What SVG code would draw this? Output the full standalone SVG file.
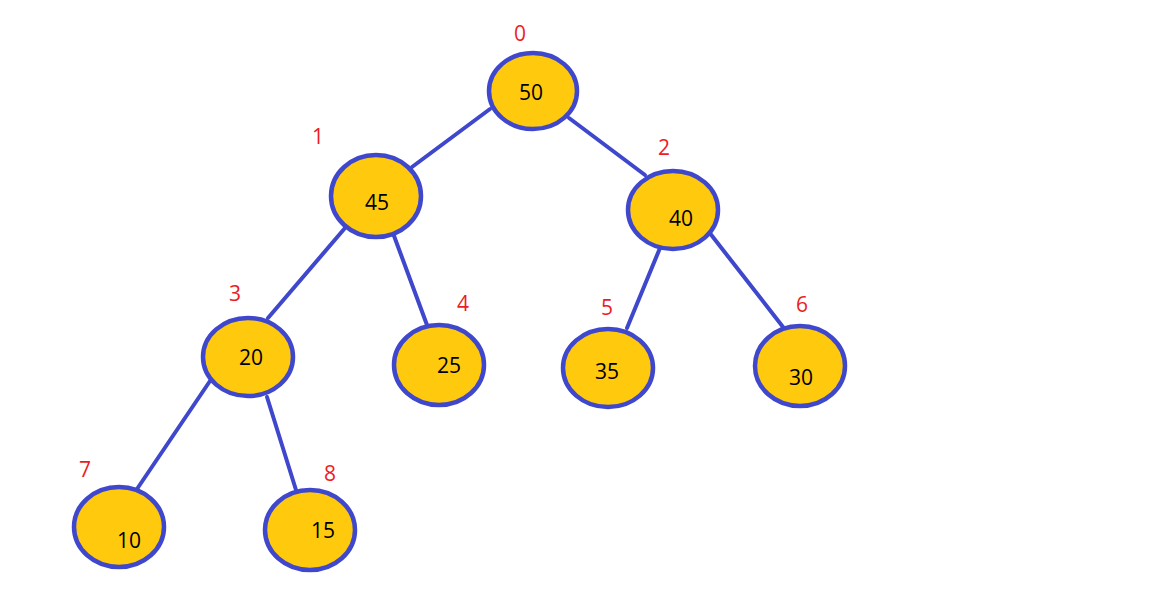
<svg xmlns="http://www.w3.org/2000/svg" width="1149" height="598" viewBox="0 0 1149 598">
<style>
.n{fill:#FFC90E;stroke:#3F48CC;stroke-width:4.5}
.c line{stroke:#3F48CC;stroke-width:4;stroke-linecap:round}
.v{font-family:"Open Sans","Noto Sans",sans-serif;font-size:21px;fill:#000;text-anchor:middle;dominant-baseline:central}
.i{font-family:"Open Sans","Noto Sans",sans-serif;font-size:21px;fill:#ED1C24;text-anchor:middle;dominant-baseline:central}
</style>
<rect width="1149" height="598" fill="#fff"/>
<g id="connectors" class="c">
<line x1="490" y1="109" x2="412" y2="167"/>
<line x1="569" y1="118" x2="645" y2="175"/>
<line x1="345" y1="228" x2="268" y2="318"/>
<line x1="427" y1="325" x2="390" y2="225"/>
<line x1="660" y1="248" x2="627" y2="328"/>
<line x1="709" y1="232" x2="783" y2="327"/>
<line x1="210" y1="381" x2="137" y2="489"/>
<line x1="267" y1="397" x2="296" y2="490"/>
</g>
<g id="n0"><ellipse class="n" cx="533" cy="91" rx="44" ry="38"/><text class="v" x="531" y="92">50</text><text class="i" x="520" y="33">0</text></g>
<g id="n1"><ellipse class="n" cx="376" cy="196" rx="45" ry="41"/><text class="v" x="377" y="202">45</text><text class="i" x="318" y="136">1</text></g>
<g id="n2"><ellipse class="n" cx="673" cy="210" rx="45" ry="39"/><text class="v" x="681" y="218">40</text><text class="i" x="664" y="147">2</text></g>
<g id="n3"><ellipse class="n" cx="248" cy="357" rx="45" ry="39"/><text class="v" x="251" y="357">20</text><text class="i" x="235" y="293">3</text></g>
<g id="n4"><ellipse class="n" cx="439" cy="365" rx="45" ry="40"/><text class="v" x="449" y="365">25</text><text class="i" x="463" y="303">4</text></g>
<g id="n5"><ellipse class="n" cx="608" cy="368" rx="45" ry="39"/><text class="v" x="607" y="371">35</text><text class="i" x="607" y="307">5</text></g>
<g id="n6"><ellipse class="n" cx="800" cy="366" rx="45" ry="40"/><text class="v" x="801" y="377">30</text><text class="i" x="802" y="304">6</text></g>
<g id="n7"><ellipse class="n" cx="119" cy="527" rx="45" ry="40"/><text class="v" x="129" y="540">10</text><text class="i" x="85" y="469">7</text></g>
<g id="n8"><ellipse class="n" cx="310" cy="530" rx="45" ry="40"/><text class="v" x="323" y="530">15</text><text class="i" x="330" y="473">8</text></g>
</svg>
